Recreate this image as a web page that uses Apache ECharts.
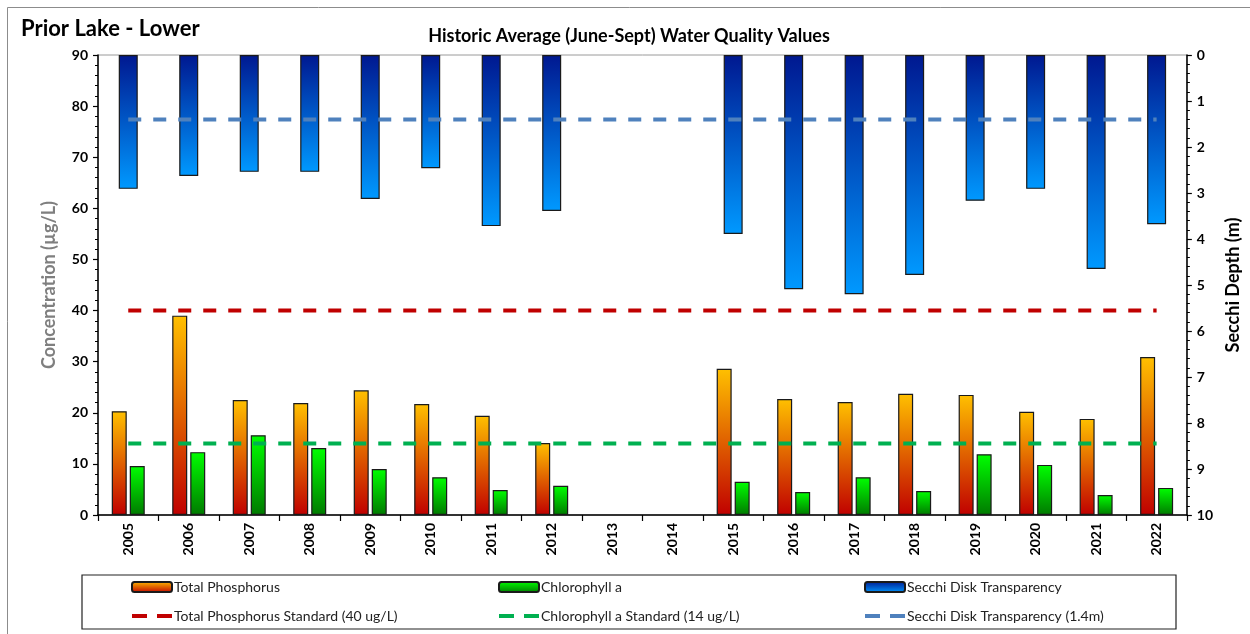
<!DOCTYPE html>
<html>
<head>
<meta charset="utf-8">
<title>Prior Lake - Lower</title>
<script src="https://cdn.jsdelivr.net/npm/echarts@6/dist/echarts.min.js"></script>
<style>
  html, body { margin: 0; padding: 0; background: #fff; }
  #chart { width: 1250px; height: 634px; }
</style>
</head>
<body>
<div id="chart"></div>
<script>
// Monitoring years
const years = ['2005', '2006', '2007', '2008', '2009', '2010', '2011', '2012', '2013',
               '2014', '2015', '2016', '2017', '2018', '2019', '2020', '2021', '2022'];

// June-September averages (null = not sampled)
const totalPhosphorus = [20.3, 39.0, 22.5, 21.9, 24.4, 21.7, 19.4, 14.1, null, null,
                         28.6, 22.7, 22.1, 23.7, 23.5, 20.2, 18.8, 30.9];          // ug/L
const chlorophyllA    = [9.6, 12.3, 15.6, 13.1, 9.0, 7.4, 4.9, 5.7, null, null,
                         6.5, 4.5, 7.4, 4.7, 11.9, 9.8, 3.9, 5.3];                 // ug/L
const secchiDepth     = [2.91, 2.63, 2.54, 2.54, 3.13, 2.46, 3.72, 3.39, null, null,
                         3.89, 5.09, 5.20, 4.78, 3.17, 2.91, 4.65, 3.68];          // m

// State standards
const tpStandard = 40;       // ug/L
const chlStandard = 14;      // ug/L
const secchiStandard = 1.4;  // m

// Axis ranges
const concentrationAxis = { min: 0, max: 90, interval: 10 };
const secchiAxis = { min: 0, max: 10, interval: 1 };

const FONT = 'Lato, "Open Sans", "DejaVu Sans", sans-serif';

const grad = (top, bottom) => new echarts.graphic.LinearGradient(0, 0, 0, 1, [
  { offset: 0, color: top }, { offset: 1, color: bottom }
]);

// Two-dash legend glyph for the standard lines (tiny corner dots pin the 40x10 box)
const DASH_ICON = 'path://M0,0H0.05V0.05H0Z M0,3H15V7H0Z M25,3H40V7H25Z M39.95,9.95H40V10H39.95Z';

const standardLine = (name, value, color, yAxisIndex) => ({
  name, type: 'line', xAxisIndex: 0, yAxisIndex,
  data: years.map(() => value),
  symbol: 'none', silent: true, z: 5,
  lineStyle: { color, width: 4, type: [13, 12] },
  itemStyle: { color }
});

const chart = echarts.init(document.getElementById('chart'), null, { renderer: 'canvas' });

const legendColumn = (left, barName, lineName) => ({
  orient: 'vertical', left, top: 580, height: 54, padding: 0,
  itemWidth: 40, itemHeight: 10, itemGap: 15,
  textStyle: { fontFamily: FONT, fontSize: 14, color: '#222', padding: [0, 0, 0, -3] },
  selectedMode: false,
  data: [barName, { name: lineName, icon: DASH_ICON }]
});

chart.setOption({
  animation: false,
  backgroundColor: '#fff',
  title: [
    { text: 'Prior Lake - Lower', left: 16, top: 13,
      textStyle: { fontFamily: FONT, fontSize: 22, fontWeight: 'bold', color: '#000' } },
    { text: 'Historic Average (June-Sept) Water Quality Values', left: 624, top: 22, textAlign: 'center',
      textStyle: { fontFamily: FONT, fontSize: 18, fontWeight: 'bold', color: '#000' } }
  ],
  graphic: [
    { type: 'rect', shape: { x: 7.5, y: 7.5, width: 1260, height: 640 },
      style: { fill: 'none', stroke: '#8c8c8c', lineWidth: 1 }, silent: true },
    { type: 'rect', shape: { x: 82, y: 575, width: 1094, height: 54 },
      style: { fill: 'none', stroke: '#222', lineWidth: 1.2 }, silent: true }
  ],
  legend: [
    legendColumn(131, 'Total Phosphorus', 'Total Phosphorus Standard (40 ug/L)'),
    legendColumn(498, 'Chlorophyll a', 'Chlorophyll a Standard (14 ug/L)'),
    legendColumn(864, 'Secchi Disk Transparency', 'Secchi Disk Transparency (1.4m)')
  ],
  grid: {
    left: 98, right: 55, top: 55, bottom: 119, containLabel: false,
    show: true, borderColor: '#9a9a9a', borderWidth: 1, backgroundColor: 'transparent'
  },
  xAxis: [
    {
      type: 'category', data: years, position: 'bottom',
      axisLine: { lineStyle: { color: '#000', width: 1.5 } },
      axisTick: { show: true, length: 6, lineStyle: { color: '#000', width: 1.2 } },
      axisLabel: { rotate: 90, margin: 8, color: '#000', fontFamily: FONT,
                   fontSize: 14, fontWeight: 'bold' },
      splitLine: { show: false }
    },
    { type: 'category', data: years, show: false }
  ],
  yAxis: [
    {
      type: 'value', position: 'left',
      min: concentrationAxis.min, max: concentrationAxis.max, interval: concentrationAxis.interval,
      name: 'Concentration (µg/L)', nameLocation: 'middle', nameGap: 40, nameRotate: 90,
      nameTextStyle: { color: '#7f7f7f', fontFamily: FONT, fontSize: 18, fontWeight: 'bold' },
      axisLine: { show: true, lineStyle: { color: '#000', width: 1.5 } },
      axisTick: { show: true, length: 5, lineStyle: { color: '#000', width: 1.2 } },
      minorTick: { show: true, splitNumber: 5, length: 3, lineStyle: { color: '#000', width: 1 } },
      axisLabel: { color: '#000', fontFamily: FONT, fontSize: 14, fontWeight: 'bold', margin: 10 },
      splitLine: { show: false }
    },
    {
      type: 'value', position: 'right', inverse: true,
      min: secchiAxis.min, max: secchiAxis.max, interval: secchiAxis.interval,
      name: 'Secchi Depth (m)', nameLocation: 'middle', nameGap: 34, nameRotate: 90,
      nameTextStyle: { color: '#000', fontFamily: FONT, fontSize: 18, fontWeight: 'bold' },
      axisLine: { show: true, lineStyle: { color: '#000', width: 1.5 } },
      axisTick: { show: true, length: 5, lineStyle: { color: '#000', width: 1.2 } },
      minorTick: { show: true, splitNumber: 5, length: 3, lineStyle: { color: '#000', width: 1 } },
      axisLabel: { color: '#000', fontFamily: FONT, fontSize: 14, fontWeight: 'bold', margin: 10 },
      splitLine: { show: false }
    }
  ],
  series: [
    {
      name: 'Total Phosphorus', type: 'bar', xAxisIndex: 0, yAxisIndex: 0,
      data: totalPhosphorus, barWidth: 15, barGap: '20%', z: 2,
      itemStyle: { color: grad('#ffc000', '#c00000'), borderColor: '#1a1a1a', borderWidth: 1.2 }
    },
    {
      name: 'Chlorophyll a', type: 'bar', xAxisIndex: 0, yAxisIndex: 0,
      data: chlorophyllA, barWidth: 15, barGap: '20%', z: 2,
      itemStyle: { color: grad('#00ff00', '#007a00'), borderColor: '#1a1a1a', borderWidth: 1.2 }
    },
    {
      name: 'Secchi Disk Transparency', type: 'bar', xAxisIndex: 1, yAxisIndex: 1,
      data: secchiDepth, barWidth: 19, z: 2,
      itemStyle: { color: grad('#001890', '#0099ff'), borderColor: '#1a1a1a', borderWidth: 1.2 }
    },
    standardLine('Total Phosphorus Standard (40 ug/L)', tpStandard, '#c00000', 0),
    standardLine('Chlorophyll a Standard (14 ug/L)', chlStandard, '#00b050', 0),
    standardLine('Secchi Disk Transparency (1.4m)', secchiStandard, '#4f81bd', 1)
  ]
});
</script>
</body>
</html>
